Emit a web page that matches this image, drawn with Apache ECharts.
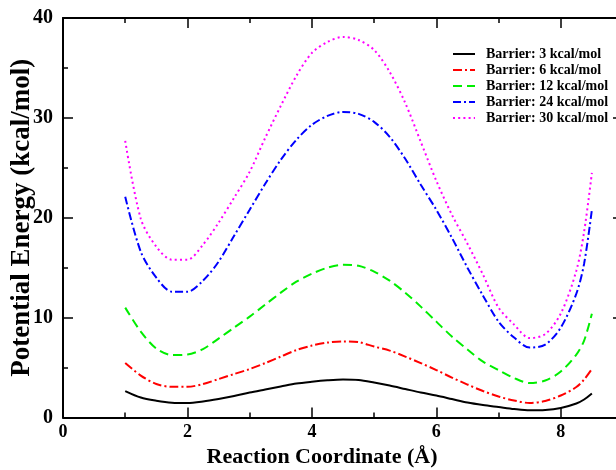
<!DOCTYPE html>
<html>
<head>
<meta charset="utf-8">
<script src="https://cdn.jsdelivr.net/npm/echarts@6/dist/echarts.min.js"></script>
<style>
  html, body { margin: 0; padding: 0; background: #fff; overflow: hidden; }
  #chart { width: 616px; height: 470px; }
</style>
</head>
<body>
<div id="chart"></div>
<script>
// Reaction coordinate samples (Å)
const coords = [1.00, 1.25, 1.50, 1.75, 2.00, 2.25, 2.50, 2.75, 3.00, 3.25, 3.50, 3.75,
  4.00, 4.25, 4.50, 4.75, 5.00, 5.25, 5.50, 5.75, 6.00, 6.25, 6.50, 6.75,
  7.00, 7.25, 7.50, 7.75, 8.00, 8.25, 8.375, 8.50];

// Potential energy profiles (kcal/mol), one per barrier height
const barrier3 = [2.65, 2.00, 1.68, 1.48, 1.45, 1.60, 1.85, 2.15, 2.50, 2.80, 3.10, 3.40,
  3.58, 3.72, 3.80, 3.75, 3.50, 3.20, 2.85, 2.50, 2.20, 1.85, 1.50, 1.25,
  1.05, 0.85, 0.72, 0.75, 0.95, 1.40, 1.80, 2.40];
const barrier6 = [5.45, 4.20, 3.35, 3.07, 3.07, 3.35, 3.85, 4.35, 4.85, 5.45, 6.10, 6.75,
  7.20, 7.50, 7.62, 7.55, 7.10, 6.70, 6.10, 5.45, 4.75, 4.00, 3.30, 2.65,
  2.10, 1.70, 1.45, 1.65, 2.20, 3.05, 3.80, 4.85];
const barrier12 = [11.0, 8.6, 6.9, 6.25, 6.3, 6.85, 7.9, 9.0, 10.1, 11.3, 12.5, 13.6,
  14.4, 15.0, 15.3, 15.2, 14.6, 13.7, 12.5, 11.1, 9.6, 8.1, 6.8, 5.6,
  4.75, 3.95, 3.45, 3.7, 4.6, 6.3, 7.7, 10.4];
const barrier24 = [22.1, 16.6, 14.0, 12.6, 12.6, 13.7, 15.6, 18.2, 20.8, 23.4, 25.8, 27.8,
  29.3, 30.2, 30.6, 30.4, 29.6, 28.1, 25.9, 23.3, 20.8, 18.0, 15.0, 12.2,
  9.6, 8.0, 7.0, 7.3, 9.0, 12.4, 15.4, 20.8];
const barrier30 = [27.7, 19.9, 17.1, 15.8, 15.8, 17.3, 19.5, 22.0, 24.6, 28.0, 31.2, 34.2,
  36.5, 37.6, 38.1, 37.8, 36.8, 34.6, 31.5, 27.6, 23.7, 20.3, 17.4, 14.3,
  11.0, 9.3, 7.95, 8.35, 10.4, 14.7, 18.6, 24.5];

const seriesNames = [
  'Barrier: 3 kcal/mol',
  'Barrier: 6 kcal/mol',
  'Barrier: 12 kcal/mol',
  'Barrier: 24 kcal/mol',
  'Barrier: 30 kcal/mol'
];
const seriesValues = [barrier3, barrier6, barrier12, barrier24, barrier30];

const FONT = '"Liberation Serif", "Times New Roman", serif';

const lineStyles = [
  { color: '#000000', width: 2, type: 'solid' },
  { color: '#ff0000', width: 2, type: [9, 3, 2, 3] },
  { color: '#00ee00', width: 2, type: [9, 5] },
  { color: '#0000ff', width: 2, type: [8, 3, 2, 3] },
  { color: '#ff00ff', width: 2, type: [2, 3.2] }
];

const series = seriesNames.map((name, i) => ({
  name: name,
  type: 'line',
  xAxisIndex: 0,
  yAxisIndex: 0,
  smooth: 0.3,
  symbol: 'none',
  lineStyle: lineStyles[i],
  itemStyle: { color: lineStyles[i].color },
  data: coords.map((x, k) => [x, seriesValues[i][k]])
}));

const tickCommon = {
  axisLine: { show: true, onZero: false, lineStyle: { color: '#000', width: 2 } },
  axisTick: { show: true, inside: true, length: 10, lineStyle: { color: '#000', width: 1.5 } },
  minorTick: { show: true, splitNumber: 2, length: 5, lineStyle: { color: '#000', width: 1.5 } },
  splitLine: { show: false },
  minorSplitLine: { show: false }
};

const chart = echarts.init(document.getElementById('chart'), null, { renderer: 'canvas' });
chart.setOption({
  animation: false,
  backgroundColor: '#ffffff',
  grid: { left: 63, right: -7, top: 18, bottom: 52.5, containLabel: false, outerBoundsMode: 'none' },
  legend: {
    data: seriesNames,
    orient: 'vertical',
    left: 447,
    top: 42,
    width: 175,
    itemWidth: 22,
    itemHeight: 14,
    itemGap: 2,
    itemStyle: { opacity: 0 },
    formatter: name => '{t|' + name + '}',
    textStyle: {
      fontFamily: FONT, fontWeight: 'bold', fontSize: 14, color: '#000',
      rich: { t: { fontFamily: FONT, fontWeight: 'bold', fontSize: 14, color: '#000', padding: [0, 0, 0, 6] } }
    }
  },
  xAxis: [
    Object.assign({
      type: 'value', position: 'bottom', min: 0, max: 9, interval: 2,
      name: 'Reaction Coordinate (Å)', nameLocation: 'middle', nameGap: 29,
      nameMoveOverlap: false,
      nameTextStyle: { fontFamily: FONT, fontWeight: 'bold', fontSize: 22, color: '#000', padding: [0, 42, 0, 0] },
      axisLabel: {
        fontFamily: FONT, fontWeight: 'bold', fontSize: 18, color: '#000', margin: 6,
        formatter: v => (v > 8.5 ? '' : String(v))
      }
    }, tickCommon),
    Object.assign({
      type: 'value', position: 'top', min: 0, max: 9, interval: 2,
      axisLabel: { show: false }
    }, tickCommon)
  ],
  yAxis: [
    Object.assign({
      type: 'value', position: 'left', min: 0, max: 40, interval: 10,
      name: 'Potential Energy (kcal/mol)', nameLocation: 'middle', nameGap: 27,
      nameMoveOverlap: false,
      nameTextStyle: { fontFamily: FONT, fontWeight: 'bold', fontSize: 27, color: '#000' },
      axisLabel: { fontFamily: FONT, fontWeight: 'bold', fontSize: 20, color: '#000', margin: 10 }
    }, tickCommon),
    Object.assign({
      type: 'value', position: 'right', min: 0, max: 40, interval: 10,
      axisLabel: { show: false }
    }, tickCommon)
  ],
  series: series
});
</script>
</body>
</html>
